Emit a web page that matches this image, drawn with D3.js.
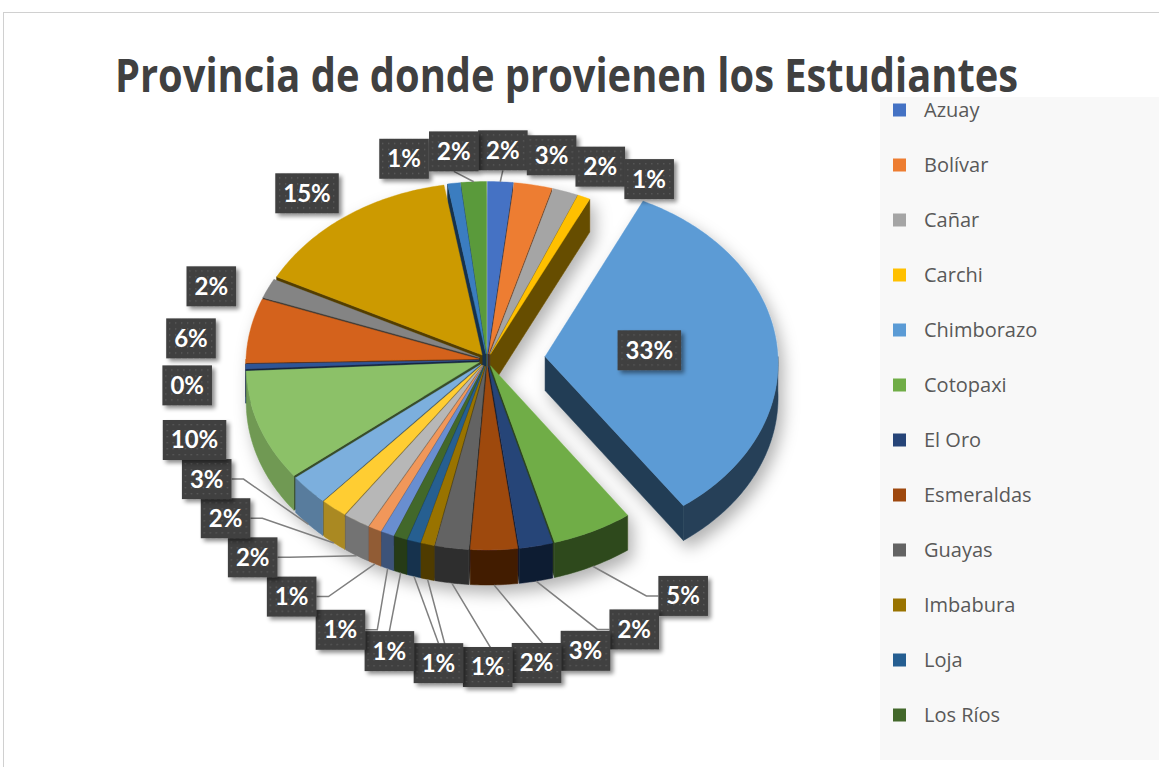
<!DOCTYPE html>
<html>
<head>
<meta charset="utf-8">
<script src="https://cdn.jsdelivr.net/npm/d3@7"></script>
<style>
  body { margin: 0; background: #fff; }
  svg { display: block; }
</style>
</head>
<body>
<svg id="chart"></svg>
<script>
// data (number of students per province)
const chartTitle = "Provincia de donde provienen los Estudiantes";
const provinces = ["Azuay", "Bolívar", "Cañar", "Carchi", "Chimborazo", "Cotopaxi", "El Oro", "Esmeraldas",
  "Guayas", "Imbabura", "Loja", "Los Ríos", "Manabí", "Morona Santiago", "Napo", "Orellana", "Pastaza",
  "Pichincha", "Santa Elena", "Santo Domingo", "Sucumbíos", "Tungurahua", "Zamora Chinchipe", "Otras"];
const students = [4, 6, 4, 2, 73, 12, 5, 7, 5, 2, 2, 2, 2, 2, 4, 4, 6, 22, 1, 13, 4, 33, 2, 4];
const sliceColors = ["#4472C4", "#ED7D31", "#A5A5A5", "#FFC000", "#5B9BD5", "#70AD47", "#264478", "#9E480E",
  "#636363", "#997300", "#255E91", "#43682B", "#698ED0", "#F1975A", "#B7B7B7", "#FFCD33", "#7CAFDD",
  "#8CC168", "#2F5597", "#D4621A", "#848484", "#CC9A00", "#3A7DC0", "#5A9A3A"];

const W = 1159, H = 767;
const svg = d3.select("#chart").attr("width", W).attr("height", H);
const defs = svg.append("defs");

// chart frame
svg.append("rect")
  .attr("x", 3.5).attr("y", 12.5)
  .attr("width", W).attr("height", H)
  .attr("fill", "#fff").attr("stroke", "#d0d0d0");

svg.append("text")
  .attr("x", 115).attr("y", 92)
  .attr("font-family", "'Open Sans', sans-serif")
  .attr("font-weight", 700)
  .attr("font-size", 47)
  .attr("fill", "#404040")
  .attr("textLength", 903)
  .attr("lengthAdjust", "spacingAndGlyphs")
  .text(chartTitle);

// ---- filters / patterns
const pieShadow = defs.append("filter").attr("id", "pieShadow")
  .attr("x", "-20%").attr("y", "-20%").attr("width", "140%").attr("height", "140%");
pieShadow.append("feDropShadow")
  .attr("dx", 5).attr("dy", 8).attr("stdDeviation", 8)
  .attr("flood-color", "#000").attr("flood-opacity", 0.3);

const boxShadow = defs.append("filter").attr("id", "boxShadow")
  .attr("x", "-30%").attr("y", "-30%").attr("width", "160%").attr("height", "160%");
boxShadow.append("feDropShadow")
  .attr("dx", 3).attr("dy", 3).attr("stdDeviation", 2)
  .attr("flood-color", "#000").attr("flood-opacity", 0.45);

const dots = defs.append("pattern").attr("id", "dots")
  .attr("width", 6).attr("height", 6).attr("patternUnits", "userSpaceOnUse");
dots.append("rect").attr("width", 6).attr("height", 6).attr("fill", "#404040");
dots.append("rect").attr("x", 2).attr("y", 2).attr("width", 1.3).attr("height", 1.3).attr("fill", "#5e5e5e");

// ---- 3D pie geometry
const cx = 487, cy = 360, rx = 233, ry = 178, depth = 34, persp = 0.03;

function project(a, r, off, down) {
  const X = r * Math.sin(a) + off.x;
  const Z = -r * Math.cos(a) + off.z;
  const f = 1 + persp * Z;
  return [cx + rx * X * f, cy + ry * Z * f + depth * f * down];
}

function arcPoints(a0, a1, off, down) {
  const n = Math.max(2, Math.ceil((a1 - a0) / 0.015));
  return d3.range(n + 1).map(k => project(a0 + (a1 - a0) * k / n, 1, off, down));
}

function shade(c, k) {
  const r = d3.rgb(c);
  return d3.rgb(r.r * k, r.g * k, r.b * k).formatHex();
}

const total = d3.sum(students);
const arcs = d3.pie().sort(null).value(d => d)(students);

const slices = arcs.map((a, i) => {
  const mid = (a.startAngle + a.endAngle) / 2;
  const share = a.value / total;
  const e = share > 0.25 ? 0.25 : 0.035;
  return {
    i, a0: a.startAngle, a1: a.endAngle, mid, share,
    off: { x: e * Math.sin(mid), z: -e * Math.cos(mid) },
    color: sliceColors[i]
  };
});

const line = d3.line();
const pieG = svg.append("g").attr("filter", "url(#pieShadow)");
const obstacles = [];
function addObstacle(pts) {
  const xs = pts.map(p => p[0]), ys = pts.map(p => p[1]);
  obstacles.push({ pts, x0: d3.min(xs), x1: d3.max(xs), y0: d3.min(ys), y1: d3.max(ys) });
}

const order = slices.slice().sort((p, q) =>
  (-0.5 * Math.cos(p.mid) + p.off.z) - (-0.5 * Math.cos(q.mid) + q.off.z));

order.forEach(s => {
  const g = pieG.append("g");
  const wallDark = shade(s.color, 0.4);
  // radial walls (only the ones facing the viewer)
  [[s.a0, Math.sin(s.a0) < 0], [s.a1, Math.sin(s.a1) > 0]].forEach(([a, vis]) => {
    if (!vis) return;
    const pts = [project(a, 0, s.off, 0), project(a, 1, s.off, 0),
                 project(a, 1, s.off, 1), project(a, 0, s.off, 1)];
    g.append("path").attr("d", line(pts) + "Z")
      .attr("fill", wallDark).attr("stroke", wallDark).attr("stroke-width", 0.5);
  });
  // outer wall on the front half
  const w0 = Math.max(s.a0, Math.PI / 2), w1 = Math.min(s.a1, 3 * Math.PI / 2);
  if (w1 > w0) {
    const k = 0.42 + 0.4 * Math.max(0, -Math.sin(s.mid));
    const pts = arcPoints(w0, w1, s.off, 0).concat(arcPoints(w0, w1, s.off, 1).reverse());
    addObstacle(pts);
    g.append("path").attr("d", line(pts) + "Z")
      .attr("fill", shade(s.color, k)).attr("stroke", shade(s.color, k)).attr("stroke-width", 0.5);
  }
  // top face
  const top = [project(0, 0, s.off, 0)].concat(arcPoints(s.a0, s.a1, s.off, 0));
  addObstacle(top);
  g.append("path").attr("d", line(top) + "Z")
    .attr("fill", s.color).attr("stroke", s.color).attr("stroke-width", 0.4);
});

// ---- data labels
const labelFont = "Lato, 'Open Sans', sans-serif";
const labelG = svg.append("g");
const lineG = labelG.append("g");
const boxG = labelG.append("g");

// labels sit on a wider ring around the pie and slide along it when crowded
const ring = { x: cx, y: cy + 15, rx: 300, ryTop: 225, ryBottom: 292 };

const nodes = slices.map(s => {
  const front = Math.cos(s.mid) < 0;
  const inside = s.share > 0.25;
  const anchor = project(s.mid, 1, s.off, front ? 1 : 0);
  return { s, inside, anchor, phi: s.mid, ext: 0, text: Math.round(s.share * 100) + "%" };
});

nodes.forEach(n => {
  const t = boxG.append("text").attr("font-family", labelFont).attr("font-weight", 700)
    .attr("font-size", 24).text(n.text);
  n.w = t.node().getComputedTextLength() + 16;
  n.h = 40;
  t.remove();
});

function place(n) {
  const ux = Math.sin(n.phi), uy = -Math.cos(n.phi);
  const ryy = uy < 0 ? ring.ryTop : ring.ryBottom;
  n.x = ring.x + ring.rx * ux + n.ext * ux;
  n.y = ring.y + ryy * uy + n.ext * uy;
}

function hitsPie(n) {
  const pts = [];
  for (let i = 0; i <= 4; i++) for (let j = 0; j <= 2; j++)
    pts.push([n.x - n.w / 2 - 4 + i * (n.w + 8) / 4, n.y - n.h / 2 - 4 + j * (n.h + 8) / 2]);
  return obstacles.some(o => pts.some(p =>
    p[0] >= o.x0 && p[0] <= o.x1 && p[1] >= o.y0 && p[1] <= o.y1 && d3.polygonContains(o.pts, p)));
}

function overlaps(a, b, allow) {
  return Math.abs(a.x - b.x) < (a.w + b.w) / 2 - allow && Math.abs(a.y - b.y) < (a.h + b.h) / 2 - allow;
}

const outside = nodes.filter(n => !n.inside).sort((a, b) => a.phi - b.phi);
const allow = 1, step = 0.002, m = outside.length;
outside.forEach(place);
for (let it = 0; it < 3000; it++) {
  let moved = false;
  for (let k = 0; k < m; k++) {
    for (let j = 1; j <= 2; j++) {
      const a = outside[k], b = outside[(k + j) % m];
      if (overlaps(a, b, allow)) { a.phi -= step; b.phi += step; moved = true; }
    }
  }
  outside.forEach(n => {
    place(n);
    if (hitsPie(n)) { n.ext += 1.5; place(n); moved = true; }
  });
  if (!moved) break;
}

nodes.forEach(n => {
  if (n.inside) {
    [n.x, n.y] = project(n.s.mid, 0.45, n.s.off, 0);
  }
  const x0 = n.x - n.w / 2, x1 = n.x + n.w / 2, y0 = n.y - n.h / 2, y1 = n.y + n.h / 2;
  const [ax, ay] = n.anchor;
  if (!n.inside) {
    const px = Math.max(x0, Math.min(x1, ax)), py = Math.max(y0, Math.min(y1, ay));
    const dist = Math.hypot(ax - px, ay - py);
    // a leader line when the label has drifted away from its slice
    if (ay < y0 - 10 || ay > y1 + 10 || dist > 60) {
      let pts;
      if (ax < x0 || ax > x1) {
        const sx = ax > x1 ? x1 : x0;
        pts = [[sx, n.y], [ax > x1 ? x1 + 12 : x0 - 12, n.y], [ax, ay]];
      } else {
        pts = [[n.x, ay < y0 ? y0 : y1], [ax, ay]];
      }
      lineG.append("path").attr("d", line(pts))
        .attr("fill", "none").attr("stroke", "#7f7f7f").attr("stroke-width", 1.5);
    }
  }
  const g = boxG.append("g").attr("transform", `translate(${n.x},${n.y})`);
  g.append("rect")
    .attr("x", -n.w / 2).attr("y", -n.h / 2).attr("width", n.w).attr("height", n.h)
    .attr("fill", "url(#dots)").attr("filter", "url(#boxShadow)");
  g.append("text")
    .attr("text-anchor", "middle").attr("dy", "0.35em")
    .attr("font-family", labelFont).attr("font-weight", 700).attr("font-size", 24)
    .attr("fill", "#fff").text(n.text);
});

// ---- legend (only the entries that fit in the panel are shown, as in the original)
const legendTop = 97, legendLeft = 880, legendH = 663, legendStep = 55;
const legend = svg.append("g");
legend.append("rect").attr("x", legendLeft).attr("y", legendTop)
  .attr("width", W - legendLeft).attr("height", legendH).attr("fill", "#f8f8f8");

const fitting = provinces.filter((d, i) => 13 + i * legendStep + 12 < legendH);
const items = legend.selectAll("g.item").data(fitting).join("g")
  .attr("class", "item")
  .attr("transform", (d, i) => `translate(${legendLeft + 13},${legendTop + 13 + i * legendStep})`);
items.append("rect").attr("x", 0).attr("y", -6.5).attr("width", 13).attr("height", 13)
  .attr("fill", (d, i) => sliceColors[i]);
items.append("text").attr("x", 31).attr("dy", "0.35em")
  .attr("font-family", "'Open Sans', sans-serif").attr("font-size", 20).attr("fill", "#595959")
  .text(d => d);
</script>
</body>
</html>
